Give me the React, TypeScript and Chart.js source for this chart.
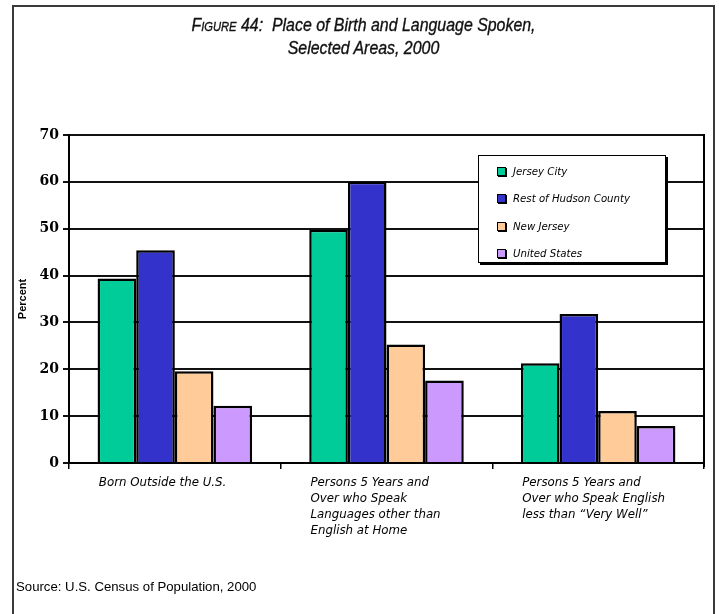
import React, { useEffect, useRef } from "react";
import { Chart, registerables } from "chart.js";

Chart.register(...registerables);

const categories: string[][] = [
  ["Born Outside the U.S."],
  ["Persons 5 Years and", "Over who Speak", "Languages other than", "English at Home"],
  ["Persons 5 Years and", "Over who Speak English", "less than \u201CVery Well\u201D"],
];
const seriesNames = ["Jersey City", "Rest of Hudson County", "New Jersey", "United States"];
const seriesColors = ["#00CC99", "#3333CC", "#FFCC99", "#CC99FF"];
const jerseyCity = [39.4, 49.8, 21.3];
const restOfHudson = [45.4, 60.0, 31.8];
const newJersey = [19.6, 25.3, 11.1];
const unitedStates = [12.2, 17.6, 7.9];
const yTicks = [0, 10, 20, 30, 40, 50, 60, 70];

const rightBorder = {
  id: "rightBorder",
  afterDatasetsDraw(chart: any) {
    const { ctx, chartArea } = chart;
    ctx.save();
    ctx.strokeStyle = "#000";
    ctx.lineWidth = 2;
    ctx.beginPath();
    ctx.moveTo(chartArea.right, chartArea.top - 1);
    ctx.lineTo(chartArea.right, chartArea.bottom + 4);
    ctx.stroke();
    ctx.restore();
  },
};

export default function App() {
  const ref = useRef<HTMLCanvasElement | null>(null);
  useEffect(() => {
    if (!ref.current) return;
    const all = [jerseyCity, restOfHudson, newJersey, unitedStates];
    const chart = new Chart(ref.current, {
      type: "bar",
      data: {
        labels: categories,
        datasets: all.map((d, i) => ({
          label: seriesNames[i],
          data: d,
          backgroundColor: seriesColors[i],
          borderColor: "#000",
          borderWidth: 2.5,
          borderSkipped: "bottom",
          categoryPercentage: 0.73,
          barPercentage: 1.0,
        })),
      },
      plugins: [rightBorder],
      options: {
        responsive: false,
        animation: false,
        devicePixelRatio: 1,
        layout: { padding: { left: 13, top: 135, right: 15, bottom: 51 } },
        plugins: { legend: { display: false }, tooltip: { enabled: false }, title: { display: false } },
        scales: {
          x: {
            offset: true,
            grid: { offset: true, drawOnChartArea: false, drawTicks: true, tickLength: 6, color: "#000", lineWidth: 1.5 },
            border: { display: true, color: "#000", width: 2 },
            ticks: {
              align: "start",
              labelOffset: -76,
              padding: 6,
              color: "#000",
              maxRotation: 0,
              autoSkip: false,
              font: { family: "DejaVu Sans", size: 11.8, style: "italic", lineHeight: 1.36 },
            },
            afterFit: (s: any) => {
              s.height = 100;
              s.paddingLeft = 0;
              s.paddingRight = 0;
            },
          },
          y: {
            min: 0,
            max: 70,
            afterBuildTicks: (s: any) => {
              s.ticks = yTicks.map((v) => ({ value: v }));
            },
            grid: { color: "#111", lineWidth: 2, drawTicks: true, tickLength: 6 },
            border: { display: true, color: "#000", width: 2 },
            ticks: {
              color: "#000",
              padding: 4,
              font: { family: "DejaVu Serif", size: 14, weight: "bold" },
            },
            title: {
              display: true,
              text: "Percent",
              color: "#000",
              padding: { top: 3, bottom: 0 },
              font: { family: "Liberation Sans", size: 11, weight: "bold" },
            },
            afterFit: (s: any) => {
              s.width = 56;
              s.paddingTop = 0;
              s.paddingBottom = 0;
            },
          },
        },
      },
    } as any);
    return () => chart.destroy();
  }, []);

  return (
    <div style={{ position: "absolute", left: 0, top: 0, width: 719, height: 614, overflow: "hidden", background: "#fff" }}>
      <div
        style={{
          position: "absolute",
          left: 12,
          top: 5,
          width: 703,
          height: 620,
          boxSizing: "border-box",
          border: "2px solid #3a3a3a",
        }}
      />
      <canvas ref={ref} width={719} height={614} style={{ position: "absolute", left: 0, top: 0 }} />
      <div
        style={{
          position: "absolute",
          left: 13,
          top: 13,
          width: 701,
          textAlign: "center",
          fontFamily: "Liberation Sans",
          fontStyle: "italic",
          fontSize: 18.5,
          lineHeight: "23px",
          color: "#111",
          WebkitTextStroke: "0.35px #111",
          transform: "scaleX(0.86)",
          transformOrigin: "center",
        }}
      >
        <div>
          <span style={{ fontVariant: "small-caps" }}>Figure</span> 44:&nbsp; Place of Birth and Language Spoken,
        </div>
        <div>Selected Areas, 2000</div>
      </div>
      <div
        style={{
          position: "absolute",
          left: 478,
          top: 155,
          width: 188,
          height: 108,
          boxSizing: "border-box",
          border: "1.5px solid #000",
          boxShadow: "2px 2px 0 #000",
          background: "#fff",
        }}
      >
        {seriesNames.map((n, i) => (
          <div key={n} style={{ position: "absolute", left: 18, top: 8 + i * 27.6, height: 14, display: "flex", alignItems: "center" }}>
            <span
              style={{
                display: "inline-block",
                width: 7,
                height: 7,
                background: seriesColors[i],
                border: "1.5px solid #000",
                boxShadow: "1px 1px 0 #000",
                marginRight: 7,
              }}
            />
            <span style={{ fontFamily: "DejaVu Sans", fontStyle: "italic", fontSize: 10.2, color: "#000", whiteSpace: "nowrap" }}>{n}</span>
          </div>
        ))}
      </div>
      <div
        style={{
          position: "absolute",
          left: 16,
          top: 579,
          fontFamily: "Liberation Sans",
          fontSize: 13.2,
          color: "#000",
          whiteSpace: "nowrap",
        }}
      >
        Source: U.S. Census of Population, 2000
      </div>
    </div>
  );
}
